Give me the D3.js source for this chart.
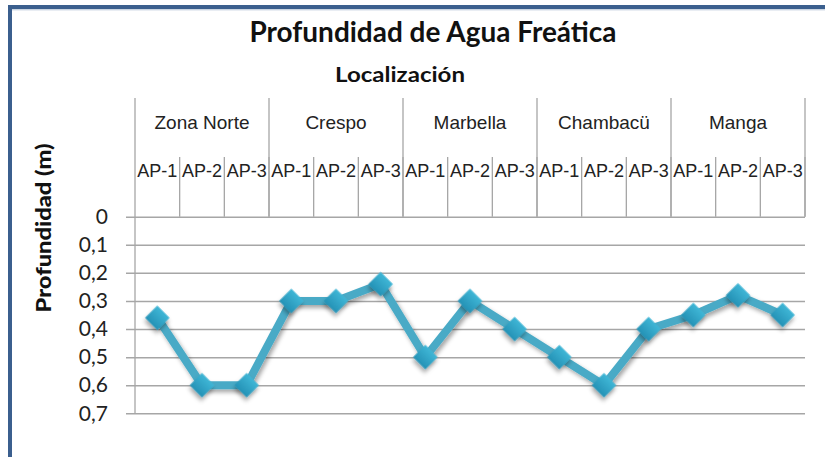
<!DOCTYPE html>
<html>
<head>
<meta charset="utf-8">
<script src="https://cdn.jsdelivr.net/npm/d3@7"></script>
<style>
body{margin:0;background:#fff;}
svg{display:block;}
.grid line{stroke:#a6a6a6;stroke-width:1.5;}
.ytick text{font-family:Lato,"Open Sans",sans-serif;font-size:21px;fill:#222;}
.cat{font-family:"Liberation Sans",Arial,sans-serif;font-size:18px;fill:#222;}
.head-line{stroke:#a6a6a6;stroke-width:1.3;}
</style>
</head>
<body>
<div id="chart"></div>
<script>
var groups = ["Zona Norte","Crespo","Marbella","Chambacü","Manga"];
var wells = ["AP-1","AP-2","AP-3"];
var depth = [0.36,0.6,0.6, 0.3,0.3,0.24, 0.5,0.3,0.4, 0.5,0.6,0.4, 0.35,0.28,0.35];
var yTicks = [0,0.1,0.2,0.3,0.4,0.5,0.6,0.7];
var yTickLabels = ["0","0,1","0,2","0,3","0,4","0,5","0,6","0,7"];

var W = 825, H = 457;
var plotL = 135, plotR = 805, plotT = 216.7, plotB = 413.3;
var headTop = 98, subTop = 157;

var svg = d3.select("#chart").append("svg")
	.attr("width",W).attr("height",H);

var defs = svg.append("defs");
var grad = defs.append("linearGradient").attr("id","mk").attr("x1",0).attr("y1",0).attr("x2",0).attr("y2",1);
grad.append("stop").attr("offset","0%").attr("stop-color","#3fb6d6");
grad.append("stop").attr("offset","100%").attr("stop-color","#2592b6");
var sh = defs.append("filter").attr("id","shadow").attr("x","-50%").attr("y","-50%").attr("width","200%").attr("height","200%");
sh.append("feDropShadow").attr("dx",2).attr("dy",3).attr("stdDeviation",2).attr("flood-color","#000").attr("flood-opacity",0.35);

// frame
svg.append("rect").attr("x",10).attr("y",7).attr("width",W+20).attr("height",H+20)
	.attr("fill","none").attr("stroke","#3b5f8e").attr("stroke-width",4);
svg.append("line").attr("x1",12).attr("x2",W).attr("y1",9.8).attr("y2",9.8)
	.attr("stroke","#b4c3d6").attr("stroke-width",1);

var cats = [];
groups.forEach(function(g){ wells.forEach(function(w){ cats.push(g+"|"+w); }); });

var x = d3.scaleBand().domain(cats).range([plotL,plotR]);
var xg = d3.scaleBand().domain(groups).range([plotL,plotR]);
var y = d3.scaleLinear().domain([0,0.7]).range([plotT,plotB]);

// gridlines + tick labels
var yAxis = d3.axisLeft(y)
	.tickValues(yTicks)
	.tickSize(plotR-126)
	.tickPadding(18)
	.tickFormat(function(d,i){ return yTickLabels[i]; });
var ga = svg.append("g").attr("class","grid ytick")
	.attr("transform","translate("+plotR+",0)")
	.call(yAxis);
ga.select(".domain").remove();

// header (category axis on top)
svg.append("line").attr("class","head-line")
	.attr("x1",plotL).attr("x2",plotL).attr("y1",headTop).attr("y2",plotB);
svg.selectAll(".gsep").data(groups).enter().append("line")
	.attr("class","head-line")
	.attr("x1",function(d){ return xg(d)+xg.bandwidth(); })
	.attr("x2",function(d){ return xg(d)+xg.bandwidth(); })
	.attr("y1",headTop).attr("y2",plotT);
svg.selectAll(".ssep").data(cats).enter().append("line")
	.attr("class","head-line")
	.attr("x1",function(d){ return x(d)+x.bandwidth(); })
	.attr("x2",function(d){ return x(d)+x.bandwidth(); })
	.attr("y1",subTop).attr("y2",plotT);
svg.selectAll(".glab").data(groups).enter().append("text")
	.attr("class","cat")
	.attr("x",function(d){ return xg(d)+xg.bandwidth()/2; })
	.attr("y",129)
	.attr("text-anchor","middle")
	.style("font-size","19px")
	.text(function(d){ return d; });
svg.selectAll(".slab").data(cats).enter().append("text")
	.attr("class","cat")
	.attr("x",function(d){ return x(d)+x.bandwidth()/2; })
	.attr("y",177)
	.attr("text-anchor","middle")
	.text(function(d){ return d.split("|")[1]; });

// titles
svg.append("text").attr("x",433).attr("y",42)
	.attr("text-anchor","middle")
	.attr("textLength",367).attr("lengthAdjust","spacingAndGlyphs")
	.style("font-family","Lato,sans-serif").style("font-weight","bold").style("font-size","29px").style("fill","#111")
	.text("Profundidad de Agua Freática");
svg.append("text").attr("x",400).attr("y",82)
	.attr("text-anchor","middle")
	.attr("textLength",130).attr("lengthAdjust","spacingAndGlyphs")
	.style("font-family","Lato,sans-serif").style("font-weight","bold").style("font-size","20px").style("fill","#111")
	.text("Localización");
svg.append("text")
	.attr("transform","translate(51,228) rotate(-90)")
	.attr("text-anchor","middle")
	.attr("textLength",169).attr("lengthAdjust","spacingAndGlyphs")
	.style("font-family","Lato,sans-serif").style("font-weight","900").style("font-size","21px").style("fill","#111")
	.text("Profundidad (m)");

// line + markers
var line = d3.line()
	.x(function(d,i){ return x(cats[i])+x.bandwidth()/2; })
	.y(function(d){ return y(d); });
svg.append("path").datum(depth)
	.attr("d",line)
	.attr("fill","none")
	.attr("stroke","#4aaac6")
	.attr("stroke-width",8)
	.attr("stroke-linejoin","round")
	.attr("filter","url(#shadow)");
svg.selectAll(".pt").data(depth).enter().append("path")
	.attr("d",d3.symbol().type(d3.symbolSquare).size(300))
	.attr("transform",function(d,i){ return "translate("+(x(cats[i])+x.bandwidth()/2)+","+y(d)+") rotate(45)"; })
	.attr("fill","url(#mk)")
	.attr("filter","url(#shadow)");
</script>
</body>
</html>
